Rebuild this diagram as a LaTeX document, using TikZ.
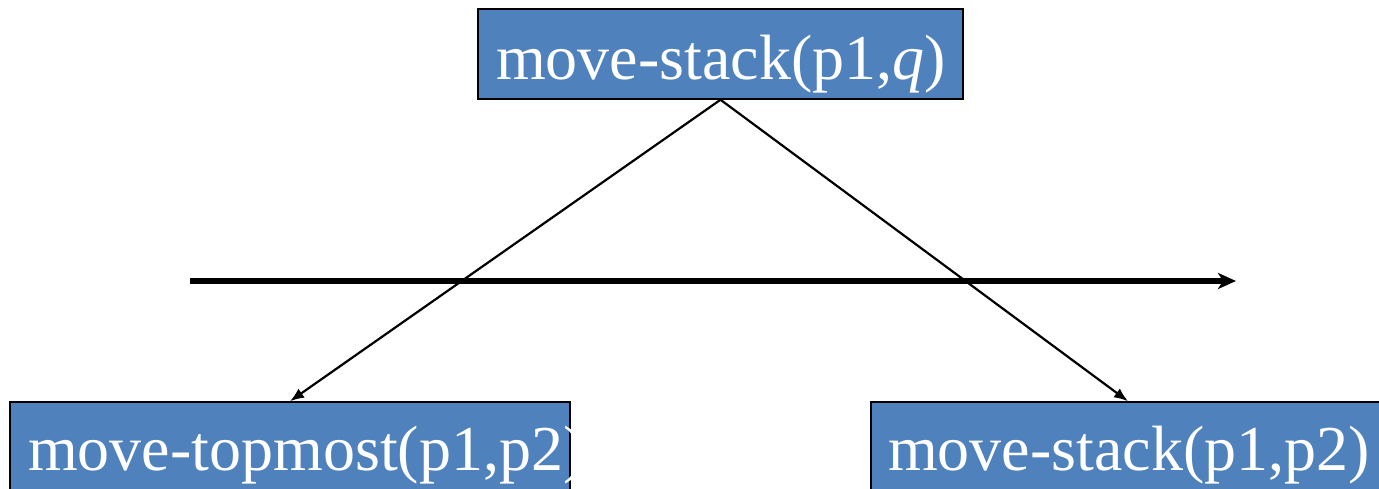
\documentclass[tikz,border=0pt]{standalone}
\usepackage{fontspec}
\setmainfont{Liberation Serif}
\usetikzlibrary{arrows.meta}
\definecolor{boxblue}{HTML}{4F81BD}
\begin{document}
\begin{tikzpicture}[x=1pt,y=-1pt,
  taskbox/.style={draw=black,line width=1.5pt,fill=boxblue,inner sep=0pt},
  tasktext/.style={text=white,inner sep=0pt,anchor=base,font=\fontsize{64}{70}\selectfont},
  edge/.style={line width=2.2pt,-{Latex[length=14pt,width=11pt]}},
  order/.style={line width=6pt,-{Stealth[length=18pt,width=16pt,inset=5pt]}}]
\useasboundingbox (0,0) rectangle (1379,489);
\clip (0,0) rectangle (1379,489);
\node[taskbox,minimum width=485pt,minimum height=90pt] (top) at (720.5,54) {};
\node[taskbox,minimum width=560pt,minimum height=92pt] (left) at (290,448) {};
\node[taskbox,minimum width=514pt,minimum height=92pt] (right) at (1128,448) {};
\node[tasktext] (toptext) at (721,80) {move-stack(p1,\textit{q})};
\node[tasktext,anchor=base west] (lefttext) at (28,470) {move-topmost(p1,p2)};
\node[tasktext] (righttext) at (1129,470) {move-stack(p1,p2)};
\coordinate (ordstart) at (190,281);
\coordinate (ordend) at (1236,281);
\draw[order] (ordstart) -- (ordend);
\draw[edge] (top.south) -- (left.north);
\draw[edge] (top.south) -- (right.north);
\end{tikzpicture}
\end{document}
